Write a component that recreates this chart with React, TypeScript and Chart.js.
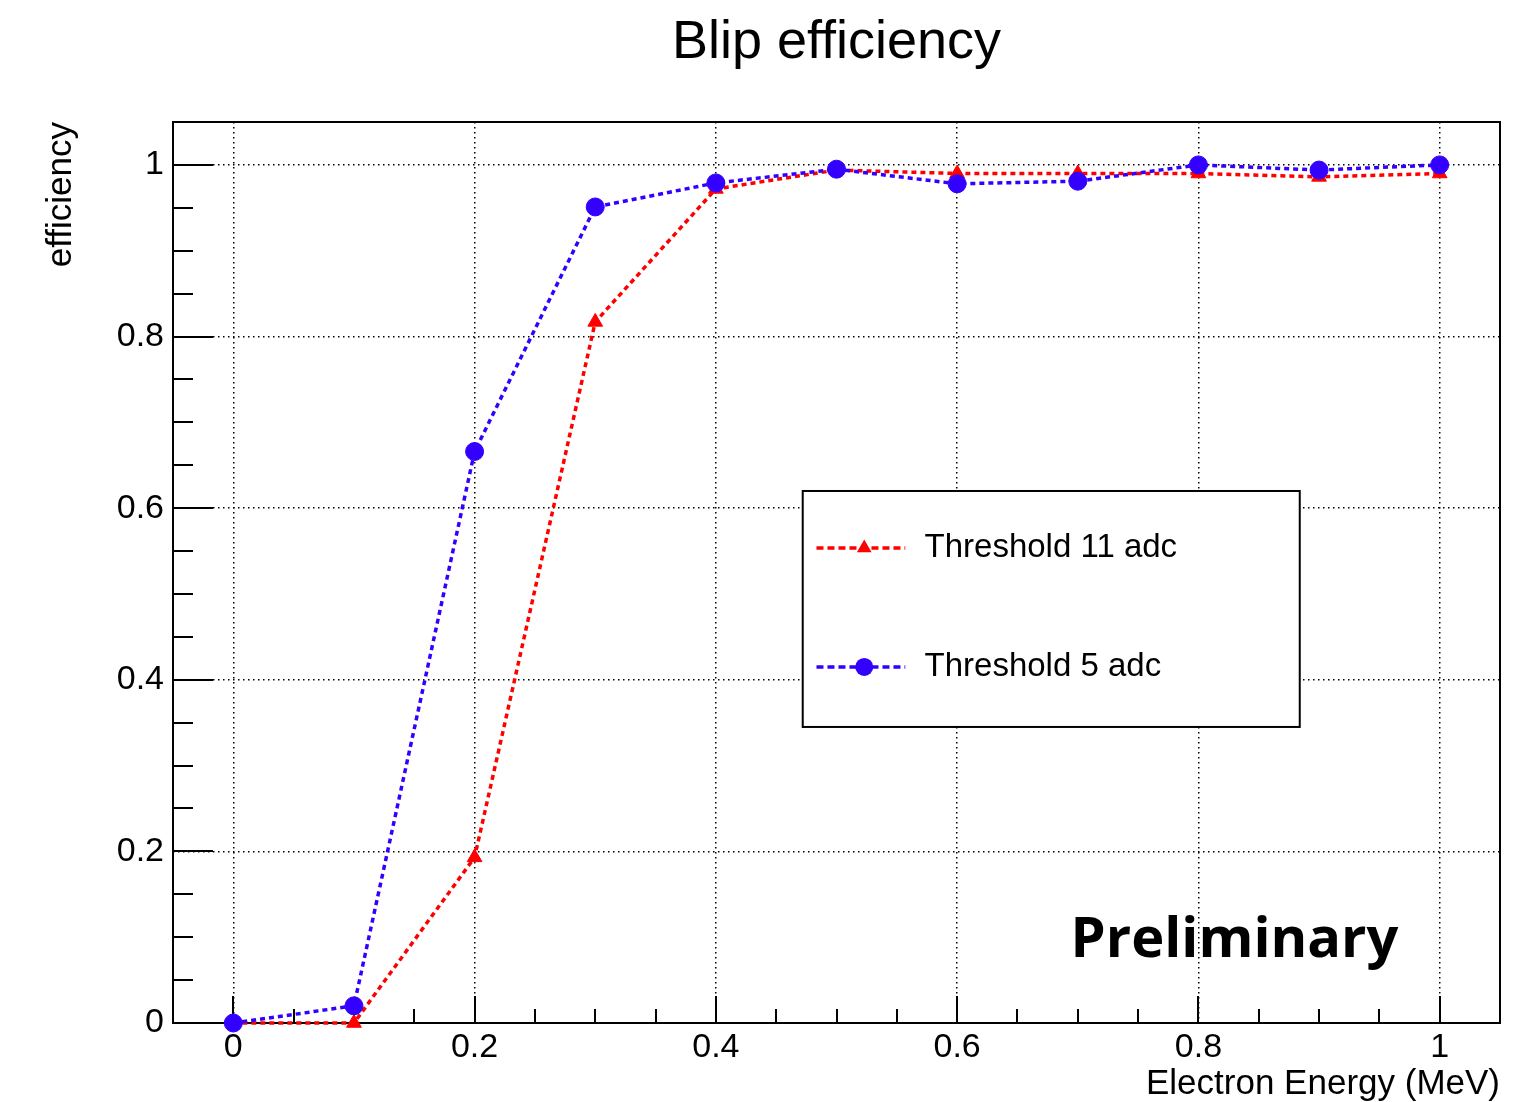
import React, { useEffect, useRef } from "react";
import { Chart, registerables } from "chart.js";

Chart.register(...registerables);

// ---- data ----
const energies = [0, 0.1, 0.2, 0.3, 0.4, 0.5, 0.6, 0.7, 0.8, 0.9, 1.0];
const threshold11 = [0, 0, 0.193, 0.817, 0.972, 0.994, 0.99, 0.99, 0.99, 0.986, 0.99];
const threshold5 = [0, 0.02, 0.666, 0.951, 0.979, 0.995, 0.978, 0.981, 1.0, 0.994, 1.0];
const xTickValues = [0, 0.2, 0.4, 0.6, 0.8, 1];
const yTickValues = [0, 0.2, 0.4, 0.6, 0.8, 1];
const seriesLabels = ["Threshold 11 adc", "Threshold 5 adc"];
const chartTitle = "Blip efficiency";
const xAxisTitle = "Electron Energy (MeV)";
const yAxisTitle = "efficiency";
const watermark = "Preliminary";

const FONT = "'Liberation Sans', Arial, Helvetica, sans-serif";
const RED = "#ff0000";
const BLUE = "#3300ff";

function drawMarker(ctx: CanvasRenderingContext2D, style: string, x: number, y: number, r: number, color: string) {
  ctx.save();
  ctx.fillStyle = color;
  ctx.setLineDash([]);
  ctx.beginPath();
  if (style === "triangle") {
    const h = r * 1.5;
    const half = r * 0.866;
    ctx.moveTo(x, y - r);
    ctx.lineTo(x + half, y - r + h);
    ctx.lineTo(x - half, y - r + h);
    ctx.closePath();
  } else {
    ctx.arc(x, y, r, 0, Math.PI * 2);
  }
  ctx.fill();
  ctx.restore();
}

const framePlugin = {
  id: "rootFrame",
  beforeDatasetsDraw(chart: any) {
    const { ctx, chartArea: a, scales } = chart;
    const xs = scales.x;
    const ys = scales.y;
    ctx.save();
    ctx.strokeStyle = "#000";
    ctx.lineWidth = 2;
    ctx.setLineDash([]);
    // y ticks (inside, left)
    for (let i = 0; i <= 20; i++) {
      const v = i * 0.05;
      const major = i % 4 === 0;
      const py = Math.round(ys.getPixelForValue(v));
      ctx.beginPath();
      ctx.moveTo(a.left, py);
      ctx.lineTo(a.left + (major ? 40 : 20), py);
      ctx.stroke();
    }
    // x ticks (inside, bottom)
    for (let i = 0; i <= 20; i++) {
      const v = i * 0.05;
      const major = i % 4 === 0;
      const px = Math.round(xs.getPixelForValue(v));
      ctx.beginPath();
      ctx.moveTo(px, a.bottom);
      ctx.lineTo(px, a.bottom - (major ? 27 : 14));
      ctx.stroke();
    }
    ctx.strokeRect(a.left, a.top, a.right - a.left, a.bottom - a.top);
    ctx.restore();
  },
};

const legendPlugin = {
  id: "rootLegend",
  afterDatasetsDraw(chart: any) {
    const { ctx, scales } = chart;
    const xs = scales.x;
    const ys = scales.y;
    const left = xs.getPixelForValue(0.472);
    const right = xs.getPixelForValue(0.884);
    const top = ys.getPixelForValue(0.62);
    const bottom = ys.getPixelForValue(0.345);
    ctx.save();
    ctx.fillStyle = "#fff";
    ctx.fillRect(left, top, right - left, bottom - top);
    ctx.strokeStyle = "#000";
    ctx.lineWidth = 2;
    ctx.setLineDash([]);
    ctx.strokeRect(left, top, right - left, bottom - top);

    const entries = [
      { label: seriesLabels[0], color: RED, style: "triangle", yv: 0.5536, r: 8.5 },
      { label: seriesLabels[1], color: BLUE, style: "circle", yv: 0.415, r: 9 },
    ];
    const lx0 = xs.getPixelForValue(0.4834);
    const lx1 = xs.getPixelForValue(0.557);
    const mx = xs.getPixelForValue(0.523);
    const tx = xs.getPixelForValue(0.573);
    entries.forEach((e) => {
      const py = ys.getPixelForValue(e.yv);
      ctx.strokeStyle = e.color;
      ctx.lineWidth = 3.5;
      ctx.setLineDash([7, 4]);
      ctx.beginPath();
      ctx.moveTo(lx0, py);
      ctx.lineTo(lx1, py);
      ctx.stroke();
      drawMarker(ctx, e.style, mx, py, e.r, e.color);
      ctx.fillStyle = "#000";
      ctx.font = `33px ${FONT}`;
      ctx.textAlign = "left";
      ctx.textBaseline = "middle";
      ctx.fillText(e.label, tx, py);
    });

    // watermark
    ctx.fillStyle = "#000";
    ctx.font = `bold 56px 'Open Sans', 'Noto Sans', sans-serif`;
    ctx.textAlign = "left";
    ctx.textBaseline = "alphabetic";
    ctx.fillText(watermark, xs.getPixelForValue(0.694), ys.getPixelForValue(0.0769));
    ctx.restore();
  },
};

export default function App() {
  const ref = useRef<HTMLCanvasElement>(null);

  useEffect(() => {
    const canvas = ref.current;
    if (!canvas) return;
    const chart = new Chart(canvas, {
      type: "line",
      data: {
        datasets: [
          {
            label: seriesLabels[0],
            data: energies.map((e, i) => ({ x: e, y: threshold11[i] })),
            borderColor: RED,
            backgroundColor: RED,
            borderWidth: 3.5,
            borderDash: [5, 4],
            pointStyle: "triangle",
            pointRadius: 8.5,
            pointBorderWidth: 1,
            pointBackgroundColor: RED,
            pointBorderColor: RED,
            tension: 0,
            fill: false,
            clip: false,
            order: 1,
          },
          {
            label: seriesLabels[1],
            data: energies.map((e, i) => ({ x: e, y: threshold5[i] })),
            borderColor: BLUE,
            backgroundColor: BLUE,
            borderWidth: 3.5,
            borderDash: [5, 4],
            pointStyle: "circle",
            pointRadius: 9,
            pointBorderWidth: 1,
            pointBackgroundColor: BLUE,
            pointBorderColor: BLUE,
            tension: 0,
            fill: false,
            clip: false,
            order: 0,
          },
        ],
      },
      options: {
        animation: false,
        responsive: false,
        devicePixelRatio: 1,
        layout: { padding: { left: 0, top: 0, bottom: 0, right: 16 } },
        plugins: {
          legend: { display: false },
          tooltip: { enabled: false },
          title: {
            display: true,
            text: chartTitle,
            fullSize: false,
            color: "#000",
            font: { family: FONT, size: 54, weight: "normal", lineHeight: 1.2 },
            padding: { top: 10.9, bottom: 46.3 },
          },
        },
        scales: {
          x: {
            type: "linear",
            min: -0.05,
            max: 1.05,
            afterBuildTicks: (s: any) => {
              s.ticks = xTickValues.map((v) => ({ value: v }));
            },
            afterFit: (s: any) => {
              s.height = 79;
            },
            ticks: {
              color: "#000",
              font: { family: FONT, size: 34 },
              padding: 4,
              maxRotation: 0,
              autoSkip: false,
              callback: (v: any) => String(v),
            },
            grid: { color: "#000", lineWidth: 1.5, drawTicks: false },
            border: { display: false, dash: [1.5, 3.5] },
            title: {
              display: true,
              text: xAxisTitle,
              align: "end",
              color: "#000",
              font: { family: FONT, size: 35, lineHeight: 1 },
              padding: { top: 0, bottom: 0.5 },
            },
          },
          y: {
            type: "linear",
            min: 0,
            max: 1.05,
            afterBuildTicks: (s: any) => {
              s.ticks = yTickValues.map((v) => ({ value: v }));
            },
            afterFit: (s: any) => {
              s.width = 173;
            },
            ticks: {
              color: "#000",
              font: { family: FONT, size: 34 },
              padding: 9,
              autoSkip: false,
              callback: (v: any) => String(v),
            },
            grid: { color: "#000", lineWidth: 1.5, drawTicks: false },
            border: { display: false, dash: [1.5, 3.5] },
            title: {
              display: true,
              text: yAxisTitle,
              align: "end",
              color: "#000",
              font: { family: FONT, size: 35, lineHeight: 1 },
              padding: { top: 43.5, bottom: 0 },
            },
          },
        },
      } as any,
      plugins: [framePlugin, legendPlugin],
    });
    return () => chart.destroy();
  }, []);

  return (
    <div style={{ position: "fixed", left: 0, top: 0, width: 1516, height: 1102, background: "#fff" }}>
      <canvas ref={ref} width={1516} height={1102} style={{ display: "block", width: 1516, height: 1102 }} />
    </div>
  );
}
